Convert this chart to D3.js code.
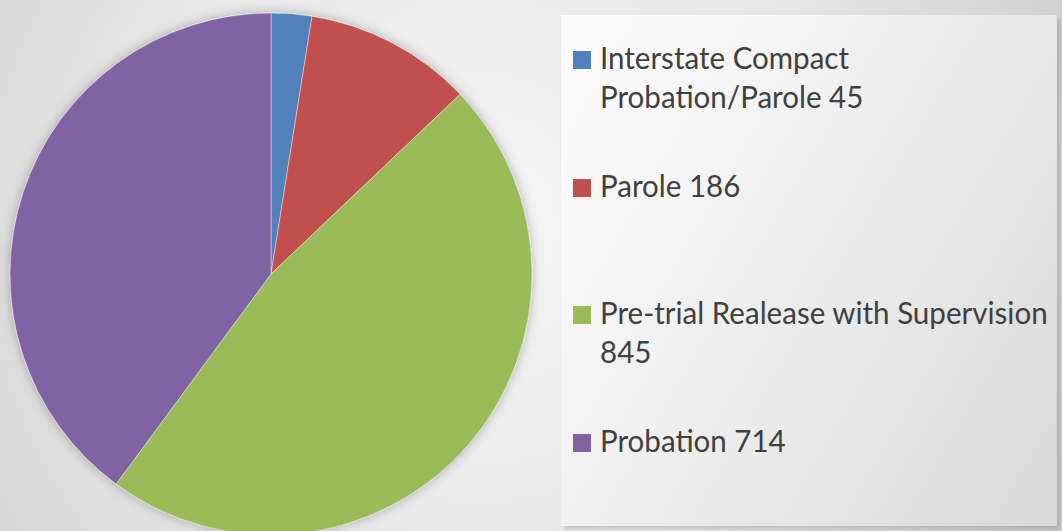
<!DOCTYPE html>
<html><head><meta charset="utf-8">
<script src="https://cdn.jsdelivr.net/npm/d3@7"></script>
<style>html,body{margin:0;padding:0;overflow:hidden;background:#e4e4e4}</style>
</head><body>
<svg id="chart" width="1062" height="531"></svg>
<script>
const categories = ["Interstate Compact Probation/Parole", "Parole", "Pre-trial Realease with Supervision", "Probation"];
const values = [45, 186, 845, 714];
const colors = ["#4F81BD", "#C0504D", "#9BBB59", "#8064A2"];
const legendLines = [["Interstate Compact", "Probation/Parole 45"], ["Parole 186"], ["Pre-trial Realease with Supervision", "845"], ["Probation 714"]];

const W = 1062, H = 531;
const svg = d3.select("#chart");
const defs = svg.append("defs");

const bg = defs.append("radialGradient").attr("id", "bg").attr("gradientUnits", "userSpaceOnUse")
  .attr("cx", 480).attr("cy", 230).attr("r", 650);
bg.append("stop").attr("offset", "0%").attr("stop-color", "#f6f6f6");
bg.append("stop").attr("offset", "55%").attr("stop-color", "#e8e8e8");
bg.append("stop").attr("offset", "100%").attr("stop-color", "#cfcfcf");

const lg = defs.append("linearGradient").attr("id", "lg").attr("x1", "0%").attr("y1", "20%").attr("x2", "100%").attr("y2", "80%");
lg.append("stop").attr("offset", "0%").attr("stop-color", "#fbfbfb");
lg.append("stop").attr("offset", "40%").attr("stop-color", "#f0f0f0");
lg.append("stop").attr("offset", "100%").attr("stop-color", "#dcdcdc");

const sh = defs.append("filter").attr("id", "sh").attr("x", "-20%").attr("y", "-20%").attr("width", "140%").attr("height", "140%");
sh.append("feDropShadow").attr("dx", 0).attr("dy", 0).attr("stdDeviation", 6).attr("flood-color", "#000").attr("flood-opacity", 0.28);

const lsh = defs.append("filter").attr("id", "lsh").attr("x", "-5%").attr("y", "-5%").attr("width", "110%").attr("height", "110%");
lsh.append("feDropShadow").attr("dx", 3).attr("dy", 3).attr("stdDeviation", 2).attr("flood-color", "#000").attr("flood-opacity", 0.18);

svg.append("rect").attr("width", W).attr("height", H).attr("fill", "url(#bg)");

// Pie
const cx = 271, cy = 274, R = 261;
const pie = d3.pie().sort(null).value(d => d)(values);
const arc = d3.arc().innerRadius(0).outerRadius(R);
const g = svg.append("g").attr("transform", `translate(${cx},${cy})`);
g.append("g").attr("filter", "url(#sh)")
  .selectAll("path").data(pie).join("path")
  .attr("d", arc).attr("fill", (d, i) => colors[i])
  .attr("stroke", "#ffffff").attr("stroke-opacity", 0.5).attr("stroke-width", 0.8);

// Legend
const lx = 561, ly = 15, lw = 496, lh = 511;
svg.append("rect").attr("x", lx).attr("y", ly).attr("width", lw).attr("height", lh)
  .attr("fill", "url(#lg)").attr("filter", "url(#lsh)");

const swatchTop = [51, 179, 306, 434];
const lineH = 39.5;
const leg = svg.append("g");
const textG = leg.append("g");
legendLines.forEach((lines, i) => {
  const y0 = swatchTop[i];
  leg.append("rect").attr("x", 573).attr("y", y0).attr("width", 18).attr("height", 18).attr("fill", colors[i]);
  lines.forEach((t, j) => {
    textG.append("text").attr("x", 0).attr("y", y0 + 18 + j * lineH)
      .attr("font-family", "Lato, 'Open Sans', sans-serif").attr("font-size", 31)
      .attr("fill", "#404040").text(t);
  });
});
// fit horizontally: widest line should span ~448px like the reference
let maxW = 0;
textG.selectAll("text").each(function() { maxW = Math.max(maxW, this.getComputedTextLength()); });
const sx = Math.min(1, 448 / maxW);
textG.attr("transform", `translate(600,0) scale(${sx},1)`);
</script>
</body></html>
